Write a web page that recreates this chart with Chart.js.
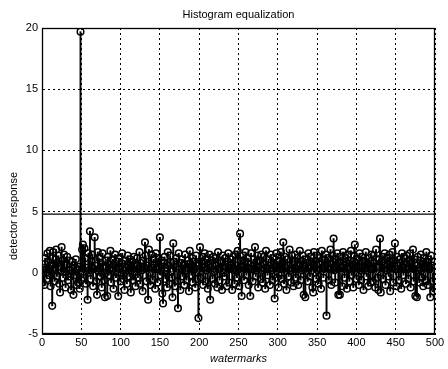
<!DOCTYPE html>
<html>
<head>
<meta charset="utf-8">
<script src="https://cdn.jsdelivr.net/npm/chart.js@4"></script>
<style>
  html, body { margin: 0; padding: 0; background: #fff; }
  canvas { display: block; }
</style>
</head>
<body>
<canvas id="chart" width="448" height="369"></canvas>
<script>
// detector response per watermark (watermark 1..500)
const detectorResponse = [
  -0.8, 0.4, -1.0, 1.2, 0.3, -0.5, 1.6, 0.9, -0.2, 1.8, -1.1, 0.6, -2.7, 1.7, 0.2, -0.7, 1.1, 1.9, -0.3, 0.8,
  1.4, -0.9, -1.6, 0.5, 2.1, 1.0, -0.4, 1.5, 0.1, -1.2, 0.7, 1.3, -0.6, 0.2, 1.0, -0.3, -1.4, 0.9, 0.4, -1.8,
  0.6, -0.2, 1.1, -1.0, 0.3, -0.8, 0.5, -1.3, 19.7, -0.6, 1.9, 2.3, -0.4, 2.0, 1.2, -0.9, 0.4, -2.2, 1.6, 0.2,
  3.4, -0.5, 0.9, 1.5, -1.1, 0.3, 2.9, 0.6, -0.7, -1.8, 1.7, 0.1, 1.2, -0.3, 0.8, -1.2, 1.6, 0.4, -0.6, -2.0,
  1.0, 0.5, -1.9, 1.3, -0.2, 0.7, 1.8, -0.8, 0.2, 1.1, -1.3, 0.6, 1.5, -0.4, 0.9, 0.0, -1.9, 1.2, 0.3, -0.7,
  0.8, 1.6, -0.5, 0.2, -1.4, 1.0, 0.4, -0.9, 1.4, 0.7, -0.3, 1.1, -1.6, 0.5, 0.9, -0.6, 1.3, 0.1, -1.1, 0.6,
  1.2, -0.4, 0.3, 1.7, -0.9, 0.8, 0.2, -1.5, 1.0, 0.5, 2.5, 1.4, -0.7, 0.6, -2.2, 1.9, 0.0, -1.0, 1.5, 0.4,
  -0.6, 1.1, 0.7, -1.3, 1.6, 0.3, -0.8, 1.2, 0.5, 2.9, -0.2, 1.0, -1.7, -2.5, 0.8, 1.3, -0.5, 0.2, -1.2, 1.7,
  0.6, -0.9, 1.4, 0.1, -0.4, -2.0, 2.4, 0.9, -1.1, 0.5, 1.2, -0.7, -2.9, 1.6, 0.3, -1.4, 0.8, 1.1, -0.3, 0.6,
  -1.0, 1.5, 0.2, -0.6, 1.0, 0.7, -1.5, 1.8, 0.4, -0.2, 1.2, -0.8, 0.9, 0.3, -1.2, 1.4, 0.6, -0.5, -3.7, 0.8,
  2.1, -0.4, 0.9, 1.3, -1.0, 0.5, 1.6, -0.7, 0.2, 1.1, -1.3, 0.7, 1.5, -2.2, 0.4, 1.0, -0.5, 1.3, 0.1, -0.9,
  1.2, 0.6, -1.2, 1.7, 0.3, -0.6, 1.0, 0.8, -1.4, 1.4, 0.0, -0.3, 1.2, 0.5, -1.1, 0.9, 1.6, -0.8, 0.4, 1.1,
  0.7, -1.4, 1.3, 0.2, -0.9, 1.5, 0.6, -0.4, 1.8, 0.3, -1.1, 3.2, 1.0, -1.9, 0.5, 1.4, -0.6, 0.9, 1.7, -0.2,
  0.8, 1.2, -1.0, 0.4, -1.9, 1.6, 0.3, -0.7, 1.1, 0.6, 2.1, -0.3, 0.9, 1.4, -1.2, 0.5, 1.0, -0.5, 1.5, 0.2,
  -0.8, 1.3, 0.7, -1.3, 1.8, 0.4, -0.2, 1.1, 0.6, -1.0, 1.5, 0.2, -0.6, 1.2, 0.8, -2.1, 0.5, 1.6, -0.4, 0.9,
  -1.2, 1.0, 0.3, 1.7, -0.5, 0.8, 2.5, -0.9, 1.3, 0.4, -1.4, 1.1, 0.6, -0.3, 1.9, 0.2, -0.8, 1.4, 0.7, -1.1,
  0.9, 1.5, -0.4, 0.3, 1.2, -1.0, 0.6, 1.8, -0.6, 1.0, 0.2, 1.4, -1.8, 0.5, -2.0, 1.1, 0.8, -0.7, 1.6, 0.4,
  -0.3, 1.3, 0.9, -1.2, -1.6, 1.7, 0.5, 1.0, -0.5, 1.4, 0.2, -0.9, 1.2, 0.7, -1.3, 1.8, 0.4, -0.4, 1.1, 0.6,
  1.5, -3.5, 0.8, 1.2, -0.6, 0.3, 1.9, -1.0, 0.7, 1.4, 2.8, 0.2, -0.8, 1.1, 0.5, 1.6, -1.8, 0.9, -1.8, 1.3,
  0.4, -1.1, 1.7, 0.6, -0.4, 1.2, 0.9, -1.3, 1.5, 0.3, -0.7, 1.0, 1.8, -0.2, 0.6, -1.2, 1.4, 2.3, 0.8, -0.5,
  1.1, 0.5, -1.0, 1.6, 0.2, -0.6, 1.3, 0.9, -1.4, 1.0, 0.4, 1.7, -0.3, 0.7, -1.1, 1.2, 0.6, -0.8, 1.5, 0.3,
  -0.7, 1.4, 0.8, -1.2, 1.9, 0.5, -0.4, -1.4, 1.1, 2.8, -1.6, 0.9, 1.3, -0.5, 0.6, 1.6, -1.0, 0.2, 1.2, 0.7,
  -0.3, 1.5, -1.5, 0.9, 0.4, 1.7, -0.8, 1.0, 2.4, 0.3, -1.1, 1.3, 0.6, -0.6, 1.1, 0.8, -1.3, 1.6, 0.5, -0.2,
  1.2, 0.7, -0.9, 1.4, 0.3, -0.5, 1.0, 1.6, -1.2, 0.8, 0.4, 1.9, -0.7, 1.1, -1.9, 0.6, -2.0, 1.3, 0.2, -0.8,
  1.0, 1.5, -0.4, 0.7, -1.1, 1.2, 0.5, -0.6, 1.7, 0.9, -1.0, 1.1, 0.3, -2.0, 1.4, 0.6, -0.7, -1.5, 0.9, -1.3
];

const threshold = 4.8;
const xTicks = [0, 50, 100, 150, 200, 250, 300, 350, 400, 450, 500];
const yTicks = [-5, 0, 5, 10, 15, 20];

const titleText = 'Histogram equalization';
const xLabel = 'watermarks';
const yLabel = 'detector response';

const FONT = '"Liberation Sans", Arial, sans-serif';

const stemPoints = detectorResponse.map((v, i) => ({ x: i + 1, y: v }));

// box around the axes plus title / axis labels
const frameAndText = {
  id: 'frameAndText',
  afterDraw(chart) {
    const { ctx, chartArea: a } = chart;
    ctx.save();
    ctx.strokeStyle = '#000';
    ctx.lineWidth = 1.3;
    ctx.strokeRect(a.left + 0.5, a.top + 0.5, a.right - a.left - 1, a.bottom - a.top - 1);

    ctx.fillStyle = '#000';
    ctx.textAlign = 'center';
    ctx.textBaseline = 'middle';
    ctx.font = '11px ' + FONT;
    const cx = (a.left + a.right) / 2;
    ctx.fillText(titleText, cx, 15);

    ctx.font = 'italic 11px ' + FONT;
    ctx.fillText(xLabel, cx, 359);

    ctx.font = '11px ' + FONT;
    ctx.translate(14, 216);
    ctx.rotate(-Math.PI / 2);
    ctx.fillText(yLabel, 0, 0);
    ctx.restore();
  }
};

new Chart(document.getElementById('chart').getContext('2d'), {
  type: 'bar',
  data: {
    datasets: [
      {
        type: 'line',
        data: [{ x: 0, y: threshold }, { x: 500, y: threshold }],
        borderColor: '#000',
        borderWidth: 1.3,
        pointRadius: 0,
        order: 0
      },
      {
        type: 'line',
        data: stemPoints,
        showLine: false,
        pointStyle: 'circle',
        pointRadius: 3.3,
        pointBorderColor: '#000',
        pointBackgroundColor: 'rgba(0,0,0,0)',
        pointBorderWidth: 1.5,
        order: 1
      },
      {
        type: 'bar',
        data: stemPoints,
        backgroundColor: '#000',
        barThickness: 1.3,
        order: 2
      }
    ]
  },
  options: {
    responsive: false,
    animation: false,
    events: [],
    layout: { padding: { top: 28, right: 13, left: 0, bottom: 0 } },
    plugins: {
      legend: { display: false },
      tooltip: { enabled: false },
      title: { display: false }
    },
    scales: {
      x: {
        type: 'linear',
        min: 0,
        max: 500,
        offset: false,
        afterBuildTicks(scale) { scale.ticks = xTicks.map(v => ({ value: v })); },
        afterFit(scale) { scale.height = 35; },
        ticks: { color: '#000', font: { family: FONT, size: 11 }, padding: 2, maxRotation: 0, autoSkip: false },
        grid: { offset: false, color: '#000', lineWidth: 1, drawTicks: false },
        border: { display: true, color: '#000', dash: [2, 3] }
      },
      y: {
        min: -5,
        max: 20,
        afterBuildTicks(scale) { scale.ticks = yTicks.map(v => ({ value: v })); },
        afterFit(scale) { scale.width = 42; },
        ticks: { color: '#000', font: { family: FONT, size: 11 }, padding: 4 },
        grid: { color: '#000', lineWidth: 1, drawTicks: false },
        border: { display: true, color: '#000', dash: [2, 3] }
      }
    }
  },
  plugins: [frameAndText]
});
</script>
</body>
</html>
